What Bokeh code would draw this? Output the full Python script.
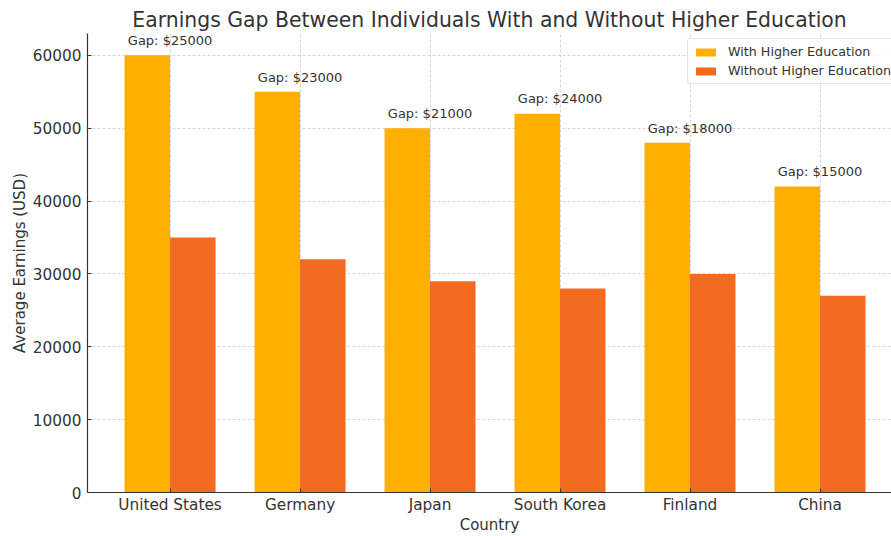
from bokeh.plotting import figure
from bokeh.models import Range1d, FixedTicker, NumeralTickFormatter, ColumnDataSource, Legend
from bokeh.core.properties import value
from bokeh.embed import file_html
from bokeh.resources import INLINE

countries = ["United States", "Germany", "Japan", "South Korea", "Finland", "China"]
with_higher = [60000, 55000, 50000, 52000, 48000, 42000]
without_higher = [35000, 32000, 29000, 28000, 30000, 27000]
y_ticks = [0, 10000, 20000, 30000, 40000, 50000, 60000]

FONT = "DejaVu Sans"
YELLOW = "#FEAF00"
ORANGE = "#F26B21"
TXT = "#333333"

idx = list(range(len(countries)))
gaps = [w - wo for w, wo in zip(with_higher, without_higher)]
bw = 0.35

src = ColumnDataSource(dict(
    x_with=[i - bw / 2 for i in idx],
    x_without=[i + bw / 2 for i in idx],
    x=idx,
    w=with_higher,
    wo=without_higher,
    label_y=[w + 1000 for w in with_higher],
    label=[f"Gap: ${g}" for g in gaps],
))

p = figure(width=891, height=536, output_backend="svg", toolbar_location=None,
           x_range=Range1d(-0.635, 5.55), y_range=Range1d(0, 63000),
           min_border_left=87, min_border_right=0, min_border_top=33, min_border_bottom=0)

p.title.text = "Earnings Gap Between Individuals With and Without Higher Education"
p.title.text_font = FONT
p.title.text_font_size = "20.4px"
p.title.text_font_style = "normal"
p.title.text_color = TXT
p.title.align = "center"
p.title.standoff = 4

r1 = p.vbar(x="x_with", top="w", width=bw, source=src, color=YELLOW, line_color=None)
r2 = p.vbar(x="x_without", top="wo", width=bw, source=src, color=ORANGE, line_color=None)

p.text(x="x", y="label_y", text="label", source=src, text_align="center",
       text_baseline="bottom", text_font=value(FONT), text_font_size="13px",
       text_color=TXT)

p.outline_line_color = None
p.background_fill_color = "white"

p.xaxis.ticker = FixedTicker(ticks=idx)
p.xaxis.major_label_overrides = {i: c for i, c in enumerate(countries)}
p.yaxis.ticker = FixedTicker(ticks=y_ticks)
p.yaxis.formatter = NumeralTickFormatter(format="0")

for ax in (p.xaxis, p.yaxis):
    ax.major_label_text_font = FONT
    ax.major_label_text_font_size = "15.3px"
    ax.major_label_text_color = TXT
    ax.axis_label_text_font = FONT
    ax.axis_label_text_font_size = "15px"
    ax.axis_label_text_font_style = "normal"
    ax.axis_label_text_color = TXT
    ax.axis_line_color = "#333333"
    ax.axis_line_width = 1.2
    ax.major_tick_in = 4
    ax.major_tick_out = 0
    ax.major_tick_line_color = "#333333"
    ax.minor_tick_line_color = None

p.xaxis.axis_label = "Country"
p.yaxis.axis_label = "Average Earnings (USD)"
p.xaxis.major_label_standoff = 3
p.xaxis.axis_label_standoff = -1
p.yaxis.major_label_standoff = 6
p.yaxis.axis_label_standoff = 1

p.grid.grid_line_color = "#cccccc"
p.grid.grid_line_dash = "3 2"
p.grid.grid_line_width = 0.8

legend = Legend(items=[("With Higher Education", [r1]), ("Without Higher Education", [r2])],
                location=(600, 408))
legend.label_text_font = FONT
legend.label_text_font_size = "12.7px"
legend.label_text_color = TXT
legend.glyph_width = 25
legend.glyph_height = 10
legend.label_standoff = 10
legend.spacing = 4
legend.padding = 5
legend.margin = 0
legend.border_line_color = "#cccccc"
legend.border_radius = 3
legend.background_fill_alpha = 0.8
legend.label_height = 14
p.add_layout(legend, "center")

open("out.html", "w").write(file_html(p, INLINE))
